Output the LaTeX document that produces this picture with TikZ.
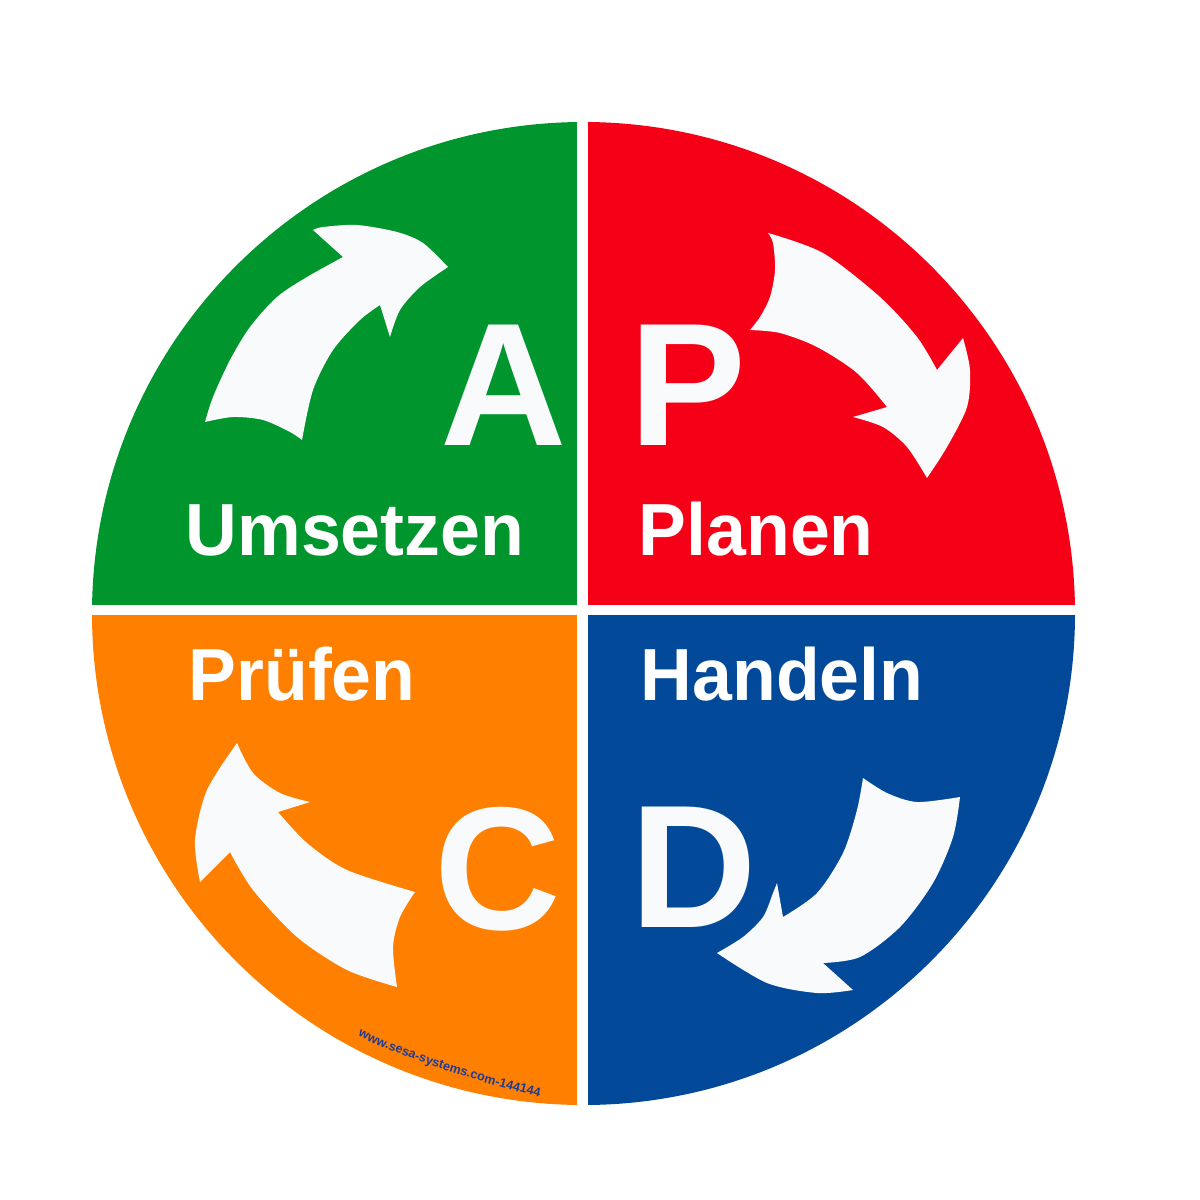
\documentclass[tikz,border=0pt]{standalone}
\usepackage{fontspec}
\usepackage{graphicx}
\setmainfont{Liberation Sans}
\usetikzlibrary{decorations.text}

\definecolor{pdcagreen}{RGB}{0,149,45}
\definecolor{pdcared}{RGB}{246,0,24}
\definecolor{pdcablue}{RGB}{3,73,154}
\definecolor{pdcaorange}{RGB}{255,127,0}
\definecolor{arrowwhite}{RGB}{249,250,252}
\definecolor{wmblue}{RGB}{30,60,150}

\tikzset{
	bigletter/.style={text=arrowwhite, font=\fontsize{49.8}{50}\selectfont\bfseries, inner sep=0pt, anchor=base west},
	phaselabel/.style={text=white, font=\fontsize{21}{21}\selectfont\bfseries, inner sep=0pt, anchor=base west},
	turnarrow/.style={fill=arrowwhite}
}

\begin{document}
\begin{tikzpicture}[x=0.01cm, y=-0.01cm]
			\useasboundingbox (0,0) rectangle (1200,1200);
			\fill[white] (0,0) rectangle (1200,1200);
			\coordinate (ctr) at (583.5,613.5);

			\foreach \col/\a in {pdcagreen/180, pdcared/270, pdcablue/0, pdcaorange/90}
			{
				\fill[\col] (ctr) -- ++(\a:491.5) arc[start angle=\a, delta angle=90, radius=491.5] -- cycle;
			}
			\fill[white] (577,100) rectangle (588,1130);
			\fill[white] (70,605) rectangle (1100,615);

			\fill[turnarrow] plot[smooth] coordinates {(205,422) (233,417) (263,420) (290,432) (302,440)}
				-- plot[smooth] coordinates {(302,440) (313,390) (333,350) (360,320) (380,305)}
				-- (390,337)
				-- plot[smooth] coordinates {(390,337) (400,310) (420,287) (448,267)}
				-- plot[smooth] coordinates {(448,267) (423,243) (397,232) (357,225) (323,227) (313,230)}
				-- (343,257)
				-- plot[smooth] coordinates {(343,257) (307,277) (277,297) (250,327) (230,360) (213,397) (205,422)}
				-- cycle;

			\fill[turnarrow] plot[smooth] coordinates {(768,233) (773,243) (775,270) (770,297) (760,317) (750,330)}
				-- plot[smooth] coordinates {(750,330) (780,333) (817,347) (857,373) (887,407)}
				-- (853,417)
				-- plot[smooth] coordinates {(853,417) (883,427) (907,447) (927,478)}
				-- plot[smooth] coordinates {(927,478) (947,447) (967,407) (970,370) (963,338)}
				-- (937,370)
				-- plot[smooth] coordinates {(937,370) (917,337) (880,297) (823,253) (768,233)}
				-- cycle;

			\fill[turnarrow] plot[smooth] coordinates {(863,778) (887,793) (917,802) (960,797)}
				-- plot[smooth] coordinates {(960,797) (953,837) (933,883) (900,927) (860,957) (823,963)}
				-- (853,990)
				-- plot[smooth] coordinates {(853,990) (817,993) (767,983) (717,953)}
				-- plot[smooth] coordinates {(717,953) (743,937) (763,917) (773,893) (777,883)}
				-- (783,917)
				-- plot[smooth] coordinates {(783,917) (817,893) (843,853) (857,810) (863,778)}
				-- cycle;

			\fill[turnarrow] plot[smooth] coordinates {(415,892) (400,917) (393,947) (397,987)}
				-- plot[smooth] coordinates {(397,987) (347,970) (297,937) (253,890) (230,852)}
				-- (200,882)
				-- plot[smooth] coordinates {(200,882) (195,840) (207,790) (237,743)}
				-- plot[smooth] coordinates {(237,743) (253,773) (280,793) (310,802)}
				-- (278,812)
				-- plot[smooth] coordinates {(278,812) (307,843) (347,870) (415,892)}
				-- cycle;

			\foreach \l/\x/\y in {A/440/445, P/629/445, C/434/929, D/630/927}
			{
				\node[bigletter] (letter\l) at (\x,\y) {\l};
			}

			\node[phaselabel] (umsetzen) at (185,555) {\scalebox{0.97}[1]{Umsetzen}};
			\node[phaselabel] (planen) at (638,555) {\scalebox{0.97}[1]{Planen}};
			\node[phaselabel] (pruefen) at (188,700) {\scalebox{0.97}[1]{Prüfen}};
			\node[phaselabel] (handeln) at (640,700) {\scalebox{0.97}[1]{Handeln}};

			\coordinate (wmstart) at (350,1032);
			\coordinate (wmend) at (548,1099);
			\path[decorate, decoration={text along path, text align=center,
				text={|\fontsize{3.6}{4}\selectfont\bfseries\color{wmblue}|www.sesa-systems.com-144144}}]
				(wmstart) .. controls (405,1060) and (488,1085) .. (wmend);
		\end{tikzpicture}
\end{document}
